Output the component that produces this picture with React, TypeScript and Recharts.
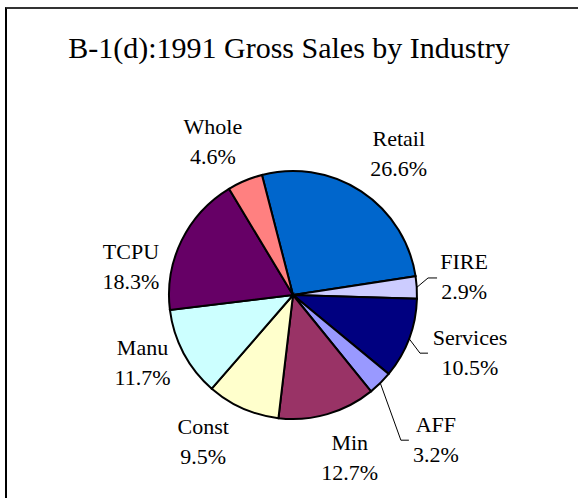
import { PieChart, Pie, Cell } from "recharts";

// 1991 gross sales share by industry, clockwise from Retail
const INDUSTRIES = ["Retail", "FIRE", "Services", "AFF", "Min", "Const", "Manu", "TCPU", "Whole"];
const SHARES = [26.6, 2.9, 10.5, 3.2, 12.7, 9.5, 11.7, 18.3, 4.6];
const COLORS = ["#0066CC", "#CCCCFF", "#000080", "#9999FF", "#993366", "#FFFFCC", "#CCFFFF", "#660066", "#FF8080"];

const data = INDUSTRIES.map((name, i) => ({ name, value: SHARES[i] }));

// label placement: distance from centre, angle nudge, optional leader (elbow / end offsets)
const LABEL_LAYOUT: Record<string, { r: number; nudge: number; leader?: [number, number] }> = {
  Retail:   { r: 177, nudge: -3.3 },
  FIRE:     { r: 172, nudge: 2.5, leader: [36, 27] },
  Services: { r: 186, nudge: 2.7, leader: [50, 42] },
  AFF:      { r: 203, nudge: 0, leader: [35, 27] },
  Min:      { r: 172.5, nudge: 3.1 },
  Const:    { r: 172, nudge: -7.6 },
  Manu:     { r: 165, nudge: -3.8 },
  TCPU:     { r: 164.6, nudge: 15.9 },
  Whole:    { r: 173.5, nudge: 4.7 },
};

const RADIAN = Math.PI / 180;
const FONT = "Liberation Serif, Times New Roman, serif";

const renderLabel = (props: any) => {
  const { cx, cy, midAngle, outerRadius, name, value } = props;
  const lay = LABEL_LAYOUT[name];
  const a = (midAngle + lay.nudge) * RADIAN;
  const x = cx + lay.r * Math.cos(-a);
  const y = cy + lay.r * Math.sin(-a);
  let line = null;
  if (lay.leader) {
    const sx = cx + outerRadius * Math.cos(-midAngle * RADIAN);
    const sy = cy + outerRadius * Math.sin(-midAngle * RADIAN);
    const [elbow, end] = lay.leader;
    line = (
      <polyline
        points={`${sx},${sy} ${x - elbow},${y + 1} ${x - end},${y + 1}`}
        fill="none"
        stroke="#000"
        strokeWidth={1}
      />
    );
  }
  return (
    <g key={name}>
      {line}
      <text x={x} y={y} textAnchor="middle" fontFamily={FONT} fontSize={22} fill="#000">
        <tspan x={x} y={y - 7.5}>{name}</tspan>
        <tspan x={x} y={y + 22.5}>{value.toFixed(1)}%</tspan>
      </text>
    </g>
  );
};

export default function App() {
  return (
    <div style={{ position: "absolute", left: 0, top: 0, width: 578, height: 498, overflow: "hidden", background: "#fff" }}>
      <div
        style={{
          position: "absolute", left: 5, top: 7, width: 620, height: 540,
          borderTop: "2px solid #333", borderLeft: "2px solid #000",
        }}
      />
      <div
        style={{
          position: "absolute", left: 0, top: 28, width: 578, textAlign: "center",
          fontFamily: FONT, fontSize: 30, lineHeight: "40px", color: "#000",
        }}
      >
        B-1(d):1991 Gross Sales by Industry
      </div>
      <div style={{ position: "absolute", left: 0, top: 0 }}>
        <PieChart width={578} height={498}>
          <Pie
            data={data}
            dataKey="value"
            nameKey="name"
            cx={288}
            cy={290}
            innerRadius={0}
            outerRadius={124}
            startAngle={104.5}
            endAngle={-255.5}
            stroke="#000"
            strokeWidth={2}
            label={renderLabel}
            labelLine={false}
            isAnimationActive={false}
          >
            {data.map((d, i) => (
              <Cell key={d.name} fill={COLORS[i]} />
            ))}
          </Pie>
        </PieChart>
      </div>
    </div>
  );
}
